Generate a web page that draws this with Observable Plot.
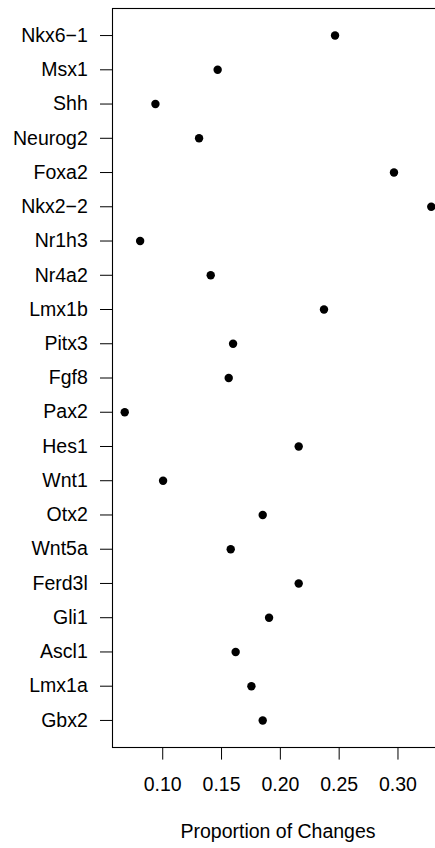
<!DOCTYPE html>
<html><head><meta charset="utf-8">
<script src="https://cdn.jsdelivr.net/npm/d3@7"></script>
<script src="https://cdn.jsdelivr.net/npm/@observablehq/plot@0.6"></script>
<style>
html,body{margin:0;padding:0;background:#fff;overflow:hidden;}
#chart{width:435px;height:848px;overflow:hidden;}
#chart svg{max-width:none !important;width:444px !important;height:848px !important;}
</style></head><body><div id="chart"></div>
<script>
const genes = ["Nkx6\u22121","Msx1","Shh","Neurog2","Foxa2","Nkx2\u22122","Nr1h3","Nr4a2","Lmx1b","Pitx3","Fgf8","Pax2","Hes1","Wnt1","Otx2","Wnt5a","Ferd3l","Gli1","Ascl1","Lmx1a","Gbx2"];
const proportions = [0.2465,0.1467,0.0938,0.1309,0.2966,0.3283,0.0808,0.1408,0.2371,0.1598,0.1561,0.0677,0.2156,0.1003,0.1850,0.1578,0.2156,0.1904,0.1620,0.1754,0.1850];
const xTicks = [0.10,0.15,0.20,0.25,0.30];
const xLabel = "Proportion of Changes";

const data = genes.map((g,i)=>({gene:g, value:proportions[i]}));
const fmt = d3.format(".2f");
const plot = Plot.plot({
  width: 444, height: 848,
  marginTop: 8, marginBottom: 101, marginLeft: 112, marginRight: 1,
  style: {fontFamily: "'Liberation Sans', Arial, Helvetica, sans-serif", fontSize: "19.5px", background: "#fff", color: "#000", overflow: "hidden", maxWidth: "none"},
  x: {domain: [0.0573, 0.3387]},
  y: {type: "point", domain: genes, padding: 0.79, round: false},
  marks: [
    Plot.frame({stroke: "#000", strokeWidth: 1.1}),
    Plot.axisX({ticks: xTicks, tickFormat: fmt, tickSize: 12.6, tickPadding: 17.5, label: null, fontSize: 19.5, stroke: "#000"}),
    Plot.axisY({tickSize: 12, tickPadding: 12.7, label: null, fontSize: 19.5, stroke: "#000"}),
    Plot.dot(data, {x: "value", y: "gene", r: 4.2, fill: "#000", stroke: null}),
    Plot.text([xLabel], {text: d => d, frameAnchor: "bottom", dy: 84, lineAnchor: "middle", fontSize: 19.5, fill: "#000"})
  ]
});
document.getElementById("chart").append(plot);
</script></body></html>
